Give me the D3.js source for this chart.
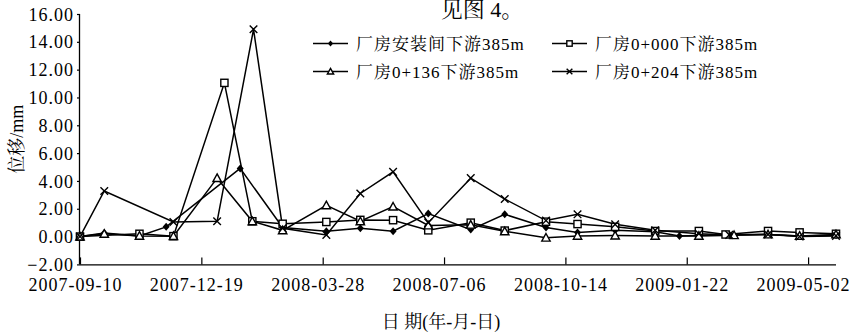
<!DOCTYPE html>
<html><head><meta charset="utf-8">
<script src="https://cdn.jsdelivr.net/npm/d3@7/dist/d3.min.js"></script>
<style>
html,body{margin:0;padding:0;background:#fff;}
svg{display:block;}
</style></head>
<body><svg id="chart" width="857" height="334"></svg>
<script>
// ---- data ----
const seriesNames = ["厂房安装间下游385m","厂房0+000下游385m","厂房0+136下游385m","厂房0+204下游385m"];
const datesA = ["2007-09-10","2007-09-30","2007-10-29","2007-11-20","2008-01-20","2008-02-24","2008-03-31","2008-04-28","2008-05-25","2008-06-23","2008-07-28","2008-08-25","2008-09-28","2008-10-24","2008-11-24","2008-12-27","2009-01-16","2009-02-26","2009-03-30","2009-04-25","2009-05-25"];
const valuesA = [0.00,0.25,0.05,0.70,4.90,0.65,0.38,0.60,0.38,1.65,0.50,1.60,0.65,0.30,0.45,0.35,0.05,0.15,0.15,0.05,0.10];
const datesB = ["2007-09-10","2007-10-29","2007-11-26","2008-01-07","2008-01-30","2008-02-24","2008-03-31","2008-04-28","2008-05-25","2008-06-23","2008-07-28","2008-08-25","2008-09-28","2008-10-24","2008-11-24","2008-12-27","2009-02-01","2009-02-23","2009-03-30","2009-04-25","2009-05-25"];
const valuesB = [0.00,0.20,0.03,11.05,1.10,0.92,1.05,1.20,1.18,0.45,1.00,0.43,1.07,0.90,0.70,0.40,0.40,0.15,0.40,0.30,0.20];
const datesC = ["2007-09-10","2007-09-30","2007-10-29","2007-11-26","2008-01-01","2008-01-30","2008-02-24","2008-03-31","2008-04-28","2008-05-25","2008-06-23","2008-07-28","2008-08-25","2008-09-28","2008-10-24","2008-11-24","2008-12-27","2009-02-01","2009-03-02","2009-03-30","2009-04-25","2009-05-25"];
const valuesC = [0.00,0.20,0.05,0.03,4.20,1.10,0.45,2.25,1.10,2.15,0.80,0.85,0.38,-0.08,0.05,0.07,0.05,0.05,0.10,0.15,0.05,0.15];
const datesD = ["2007-09-10","2007-09-30","2007-11-26","2008-01-01","2008-01-31","2008-02-24","2008-03-31","2008-04-28","2008-05-25","2008-06-23","2008-07-28","2008-08-25","2008-09-28","2008-10-24","2008-11-24","2008-12-27","2009-02-01","2009-02-26","2009-03-30","2009-04-25","2009-05-25"];
const valuesD = [0.00,3.28,1.05,1.10,14.90,0.60,0.12,3.10,4.65,1.00,4.20,2.70,1.15,1.60,0.88,0.45,0.20,0.12,0.15,0.00,0.05];
const xTickLabels = ["2007-09-10","2007-12-19","2008-03-28","2008-07-06","2008-10-14","2009-01-22","2009-05-02"];
const yTicks = [-2,0,2,4,6,8,10,12,14,16];
const xDomain = ["2007-09-10","2009-05-25"];
const yLabel = "位移/mm";
const xLabel = "日 期(年-月-日)";
const titleFrag = "见图 4。";

// ---- chart ----
const SERIF = '"Times New Roman","Liberation Serif","DejaVu Serif","Noto Serif CJK SC","Noto Sans CJK SC",serif';
const parse = s => { const [y,m,d] = s.split("-").map(Number); return new Date(Date.UTC(y,m-1,d)); };
const svg = d3.select("#chart");
const L = 80, R = 836, T = 14, B = 264.4;
const x = d3.scaleUtc().domain(xDomain.map(parse)).range([L, R]);
const y = d3.scaleLinear().domain([-2, 16]).range([B, T]);

svg.append("text").attr("x", 482).attr("y", 17).attr("text-anchor","middle")
  .attr("font-family",SERIF).attr("font-size",22).text(titleFrag);

// y axis
const yAxis = d3.axisLeft(y).tickValues(yTicks).tickFormat(d3.format(".2f")).tickSize(3).tickPadding(3);
const gy = svg.append("g").attr("transform", `translate(${L},0)`).call(yAxis);
gy.attr("font-family", SERIF).attr("font-size", 18);
gy.select(".domain").attr("d", `M-0.5,${T}V${B}`).attr("stroke","#000").attr("stroke-width",1.3);
gy.selectAll(".tick line").attr("stroke","#000").attr("stroke-width",1.2);
gy.selectAll(".tick text").attr("letter-spacing","1px").attr("fill","#000").attr("dy","0.34em");

// x axis
const xAxis = d3.axisBottom(x).tickValues(xTickLabels.map(parse)).tickFormat((d,i)=>xTickLabels[i]).tickSize(-7).tickPadding(14);
const gx = svg.append("g").attr("transform", `translate(0,${B})`).call(xAxis);
gx.attr("font-family", SERIF).attr("font-size", 18);
gx.select(".domain").attr("d", `M${L},0.5H${R}`).attr("stroke","#000").attr("stroke-width",1.3);
gx.selectAll(".tick line").attr("stroke","#000").attr("stroke-width",1.2);
gx.selectAll(".tick text").attr("letter-spacing","1px").attr("fill","#000").attr("dx","-5");

// axis titles
svg.append("text").attr("transform", `translate(17,${(T+B)/2}) rotate(-90)`).attr("text-anchor","middle")
  .attr("dy","0.35em").attr("font-family",SERIF).attr("font-size",18).text(yLabel);
svg.append("text").attr("x", 441).attr("y", 328).attr("text-anchor","middle")
  .attr("font-family",SERIF).attr("font-size",18).text(xLabel);

// markers
function marker(g, type, s) {
  if (type === 0) {
    g.append("path").attr("d", `M0,${-4*s}L${3.5*s},0L0,${4*s}L${-3.5*s},0Z`).attr("fill","#000");
  } else if (type === 1) {
    g.append("rect").attr("x",-3.6*s).attr("y",-3.6*s).attr("width",7.2*s).attr("height",7.2*s)
      .attr("fill","#fff").attr("stroke","#000").attr("stroke-width",1.4);
  } else if (type === 2) {
    g.append("path").attr("d", `M0,${-4.2*s}L${4.2*s},${3.4*s}L${-4.2*s},${3.4*s}Z`)
      .attr("fill","#fff").attr("stroke","#000").attr("stroke-width",1.4);
  } else {
    g.append("path").attr("d", `M${-3.8*s},${-3.8*s}L${3.8*s},${3.8*s}M${3.8*s},${-3.8*s}L${-3.8*s},${3.8*s}`)
      .attr("fill","none").attr("stroke","#000").attr("stroke-width",1.4);
  }
}

const series = [[datesA,valuesA],[datesB,valuesB],[datesC,valuesC],[datesD,valuesD]];
const line = d3.line().x(d=>x(d[0])).y(d=>y(d[1]));
series.forEach(([ds,vs], i) => {
  const pts = ds.map((d,j)=>[parse(d), vs[j]]);
  svg.append("path").datum(pts).attr("d", line).attr("fill","none").attr("stroke","#000").attr("stroke-width",1.5);
});
series.forEach(([ds,vs], i) => {
  ds.forEach((d,j) => {
    const g = svg.append("g").attr("transform", `translate(${x(parse(d))},${y(vs[j])})`);
    marker(g, i, 1);
  });
});

// legend
const legPos = [[313,43.5],[552,43.5],[313,71.5],[552,71.5]];
legPos.forEach(([lx, ly], si) => {
  const g = svg.append("g").attr("transform", `translate(${lx},${ly})`);
  g.append("line").attr("x1",0).attr("x2",35).attr("y1",0).attr("y2",0).attr("stroke","#000").attr("stroke-width",1.5);
  const m = g.append("g").attr("transform","translate(17.5,0)");
  marker(m, si, 0.75);
  g.append("text").attr("x", 43).attr("y", 0).attr("dy","0.36em").attr("font-family",SERIF)
    .attr("font-size",17).attr("letter-spacing","1px").text(seriesNames[si]);
});
</script></body></html>
